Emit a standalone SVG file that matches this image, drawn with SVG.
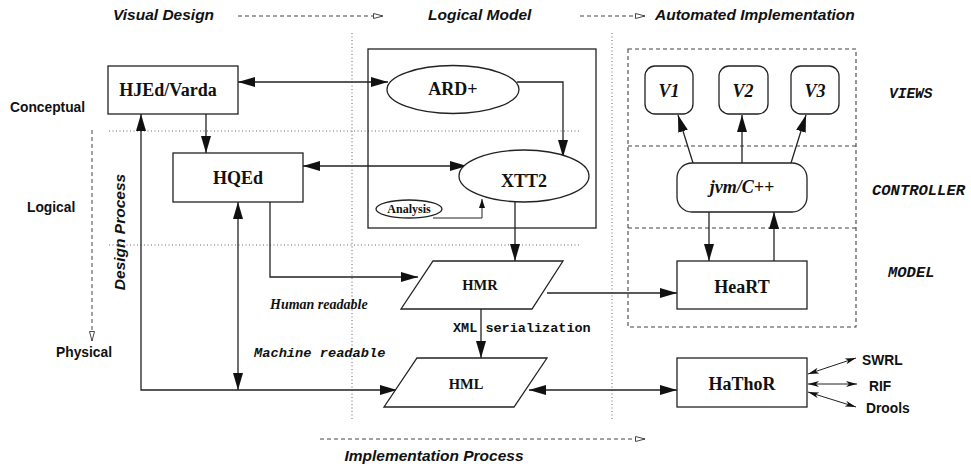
<svg xmlns="http://www.w3.org/2000/svg" width="971" height="466" viewBox="0 0 971 466">
  <defs>
    <marker id="arr" markerUnits="userSpaceOnUse" markerWidth="18" markerHeight="12" refX="17" refY="5" orient="auto-start-reverse">
      <path d="M0,0 L17,5 L0,10 z" fill="#111"/>
    </marker>
    <marker id="arrS" markerUnits="userSpaceOnUse" markerWidth="10" markerHeight="8" refX="9" refY="3" orient="auto-start-reverse">
      <path d="M0,0 L9,3 L0,6 z" fill="#111"/>
    </marker>
    <marker id="arrT" markerUnits="userSpaceOnUse" markerWidth="12" markerHeight="8" refX="11" refY="3" orient="auto-start-reverse">
      <path d="M0,0 L11,3 L0,6 L3,3 z" fill="#111"/>
    </marker>
    <marker id="open" markerUnits="userSpaceOnUse" markerWidth="12" markerHeight="8" refX="10" refY="3" orient="auto">
      <path d="M0.5,0.5 L10,3 L0.5,5.5 z" fill="#fff" stroke="#333" stroke-width="0.9"/>
    </marker>
  </defs>
  <style>
    .box { fill: #fff; stroke: #222; stroke-width: 1.3; }
    .frame { fill: none; stroke: #222; stroke-width: 1.3; }
    .dashbox { fill: none; stroke: #444; stroke-width: 1.1; stroke-dasharray: 4 3; }
    .dot { fill: none; stroke: #666; stroke-width: 1; stroke-dasharray: 1 2.5; }
    .flow { fill: none; stroke: #444; stroke-width: 1; stroke-dasharray: 4 3; }
    .edge { fill: none; stroke: #222; stroke-width: 1.3; }
    .thin { fill: none; stroke: #222; stroke-width: 1; }
    .node { font-family: "Liberation Serif", serif; font-weight: bold; fill: #111; text-anchor: middle; }
    .nodei { font-family: "Liberation Serif", serif; font-weight: bold; font-style: italic; fill: #111; text-anchor: middle; }
    .note { font-family: "Liberation Serif", serif; font-weight: bold; font-style: italic; fill: #111; }
    .head { font-family: "Liberation Sans", sans-serif; font-weight: bold; font-style: italic; font-size: 15.5px; fill: #111; }
    .lvl { font-family: "Liberation Sans", sans-serif; font-weight: bold; font-size: 13.8px; fill: #111; }
    .mono { font-family: "Liberation Mono", monospace; font-weight: bold; fill: #111; }
    .monoi { font-family: "Liberation Mono", monospace; font-weight: bold; font-style: italic; fill: #111; }
  </style>

  <!-- process headings and flow arrows -->
  <g id="headings">
    <text class="head" x="113" y="20">Visual Design</text>
    <text class="head" x="428" y="20">Logical Model</text>
    <text class="head" x="655" y="20">Automated Implementation</text>
    <line class="flow" x1="238" y1="16" x2="383" y2="16" marker-end="url(#open)"/>
    <line class="flow" x1="580" y1="16" x2="645" y2="16" marker-end="url(#open)"/>
    <line class="flow" x1="320" y1="439" x2="645" y2="439" marker-end="url(#open)"/>
    <text class="head" x="434" y="461" text-anchor="middle" font-size="16.5">Implementation Process</text>
  </g>

  <!-- abstraction levels -->
  <g id="levels">
    <text class="lvl" x="10" y="112">Conceptual</text>
    <text class="lvl" x="27" y="212">Logical</text>
    <text class="lvl" x="56" y="357">Physical</text>
    <line class="flow" x1="92" y1="130" x2="92" y2="341" marker-end="url(#open)"/>
    <text class="head" transform="translate(125 232) rotate(-90)" text-anchor="middle" font-size="16">Design Process</text>
  </g>

  <!-- separators -->
  <g id="separators">
    <line class="dot" x1="352" y1="33" x2="352" y2="421"/>
    <line class="dot" x1="612" y1="33" x2="612" y2="421"/>
    <line class="dot" x1="109" y1="131" x2="580" y2="131"/>
    <line class="dot" x1="109" y1="245" x2="580" y2="245"/>
  </g>

  <!-- logical model frame -->
  <rect id="model-frame" class="frame" x="368" y="49" width="228" height="179"/>

  <!-- MVC layers -->
  <g id="mvc">
    <rect class="dashbox" x="628" y="49" width="228" height="278"/>
    <line class="dashbox" x1="628" y1="146" x2="856" y2="146"/>
    <line class="dashbox" x1="628" y1="228" x2="856" y2="228"/>
    <text class="monoi" x="889" y="98" font-size="14.5">VIEWS</text>
    <text class="monoi" x="872" y="195" font-size="15.5">CONTROLLER</text>
    <text class="monoi" x="888" y="277" font-size="15.5">MODEL</text>
  </g>

  <!-- connectors -->
  <g id="connectors">
    <line class="edge" x1="238" y1="82" x2="388" y2="82" marker-start="url(#arr)" marker-end="url(#arr)"/>
    <line class="edge" x1="206" y1="114" x2="206" y2="153" marker-end="url(#arr)"/>
    <polyline class="edge" points="397,390 141,390 141,114" marker-start="url(#arr)" marker-end="url(#arr)"/>
    <line class="edge" x1="238" y1="202" x2="238" y2="390" marker-start="url(#arr)" marker-end="url(#arr)"/>
    <line class="edge" x1="303" y1="166" x2="467" y2="166" marker-start="url(#arr)" marker-end="url(#arr)"/>
    <polyline class="edge" points="517,82 563,82 563,157" marker-end="url(#arr)"/>
    <polyline class="thin" points="433,218 482,218 482,199" marker-end="url(#arrS)"/>
    <line class="edge" x1="515" y1="202" x2="515" y2="261" marker-end="url(#arr)"/>
    <polyline class="edge" points="270,202 270,277 418,277" marker-end="url(#arr)"/>
    <line class="edge" x1="481" y1="309" x2="481" y2="358" marker-end="url(#arr)"/>
    <line class="edge" x1="547" y1="293" x2="677" y2="293" marker-end="url(#arr)"/>
    <line class="edge" x1="529" y1="390" x2="677" y2="390" marker-start="url(#arr)" marker-end="url(#arr)"/>
    <line class="edge" x1="693" y1="163" x2="678" y2="115" marker-end="url(#arr)"/>
    <line class="edge" x1="742" y1="163" x2="742" y2="115" marker-end="url(#arr)"/>
    <line class="edge" x1="791" y1="163" x2="806" y2="115" marker-end="url(#arr)"/>
    <line class="edge" x1="709" y1="212" x2="709" y2="261" marker-end="url(#arr)"/>
    <line class="edge" x1="774" y1="261" x2="774" y2="212" marker-end="url(#arr)"/>
    <line class="thin" x1="808" y1="374" x2="856" y2="358" marker-start="url(#arrT)" marker-end="url(#arrT)"/>
    <line class="thin" x1="808" y1="384" x2="857" y2="384" marker-start="url(#arrT)" marker-end="url(#arrT)"/>
    <line class="thin" x1="808" y1="392" x2="856" y2="407" marker-start="url(#arrT)" marker-end="url(#arrT)"/>
  </g>

  <!-- connector labels -->
  <g id="labels">
    <text class="note" x="270" y="309" font-size="14">Human readable</text>
    <text class="mono" x="453" y="332" font-size="13.5">XML serialization</text>
    <text class="monoi" x="254" y="357" font-size="13.7">Machine readable</text>
    <text class="lvl" x="862" y="365">SWRL</text>
    <text class="lvl" x="869" y="391">RIF</text>
    <text class="lvl" x="866" y="413">Drools</text>
  </g>

  <!-- nodes -->
  <g id="hjed">
    <rect class="box" x="108" y="66" width="130" height="48"/>
    <text class="node" x="168" y="96" font-size="18">HJEd/Varda</text>
  </g>
  <g id="hqed">
    <rect class="box" x="173" y="153" width="130" height="49"/>
    <text class="node" x="238" y="184" font-size="18">HQEd</text>
  </g>
  <g id="ard">
    <ellipse class="box" cx="453" cy="89.5" rx="66" ry="24"/>
    <text class="node" x="453" y="95" font-size="18">ARD+</text>
  </g>
  <g id="xtt2">
    <ellipse class="box" cx="524" cy="176" rx="65" ry="26"/>
    <text class="node" x="524" y="187" font-size="18">XTT2</text>
  </g>
  <g id="analysis">
    <ellipse class="box" cx="409" cy="209" rx="33" ry="9" stroke-width="1"/>
    <text class="node" x="409" y="213" font-size="12">Analysis</text>
  </g>
  <g id="hmr">
    <polygon class="box" points="433,261 563,261 532,309 401,309"/>
    <text class="node" x="480" y="290" font-size="14.5">HMR</text>
  </g>
  <g id="hml">
    <polygon class="box" points="417,358 547,358 514,407 384,407"/>
    <text class="node" x="466" y="389" font-size="14.5">HML</text>
  </g>
  <g id="v1">
    <rect class="box" x="645" y="66" width="48" height="48" rx="10"/>
    <text class="nodei" x="669" y="97" font-size="18">V1</text>
  </g>
  <g id="v2">
    <rect class="box" x="719" y="66" width="49" height="48" rx="10"/>
    <text class="nodei" x="743" y="97" font-size="18">V2</text>
  </g>
  <g id="v3">
    <rect class="box" x="791" y="66" width="48" height="48" rx="10"/>
    <text class="nodei" x="815" y="97" font-size="18">V3</text>
  </g>
  <g id="jvm">
    <rect class="box" x="677" y="163" width="130" height="49" rx="15"/>
    <text class="nodei" x="742" y="193" font-size="18">jvm/C++</text>
  </g>
  <g id="heart">
    <rect class="box" x="677" y="261" width="130" height="48"/>
    <text class="node" x="742" y="293" font-size="18">HeaRT</text>
  </g>
  <g id="hathor">
    <rect class="box" x="677" y="358" width="130" height="49"/>
    <text class="node" x="742" y="390" font-size="18">HaThoR</text>
  </g>
</svg>
